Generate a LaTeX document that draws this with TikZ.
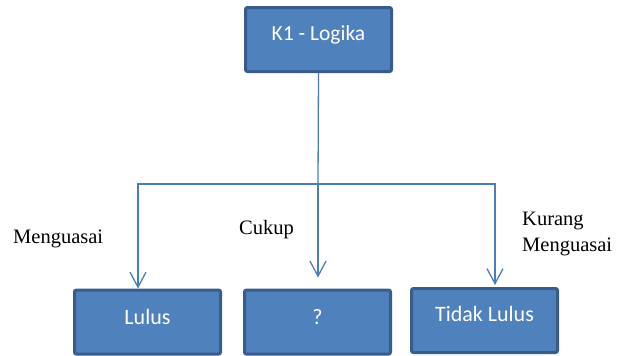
\documentclass[tikz,border=0pt]{standalone}
\usepackage{fontspec}
\setmainfont{Liberation Serif}
\newfontfamily\boxfont{Carlito}
\usetikzlibrary{arrows.meta}
\definecolor{boxfill}{RGB}{79,129,189}
\definecolor{boxedge}{RGB}{56,93,138}
\definecolor{linecol}{RGB}{74,126,187}
\tikzset{
  stepbox/.style={draw=boxedge, fill=boxfill, line width=3pt, rounded corners=2pt,
    minimum width=146pt, minimum height=64pt, inner sep=0pt, text=white,
    font=\boxfont\fontsize{22}{26}\selectfont},
  conn/.style={draw=linecol, line width=1.3pt},
  arr/.style={conn, -{Straight Barb[length=15pt,width=16pt,line width=1.3pt]}},
  lbl/.style={inner sep=0pt, font=\fontsize{20.5}{26}\selectfont, text=black}
}
\begin{document}
\begin{tikzpicture}[x=1pt,y=-1pt]
\useasboundingbox (0,0) rectangle (627,356);
\node[stepbox, font=\boxfont\fontsize{21.5}{26}\selectfont, text height=14pt, text depth=11.5pt] (top) at (318.5,39.5) {K1 - Logika};
\node[stepbox, text height=15pt, text depth=11pt] (lulus) at (147.5,322) {Lulus};
\node[stepbox, text height=15pt, text depth=11pt] (q) at (317.5,322) {?};
\node[stepbox, text height=14.5pt, text depth=13pt] (tl) at (484.5,320.5) {Tidak Lulus};
\coordinate (j) at (318,184);
\draw[conn] (top.south) -- (j);
\draw[arr] (j) -| ([xshift=-9.5pt]lulus.north);
\draw[arr] (j) -- ([yshift=11pt]j |- q.north);
\draw[arr] (j) -| ([xshift=10.5pt,yshift=2pt]tl.north);
\node[lbl, anchor=base west] (m1) at (13,243) {Menguasai};
\node[lbl, anchor=base west] (c1) at (239,234) {Cukup};
\node[lbl, anchor=north west, align=left] (k1) at (522,211.4) {Kurang\\Menguasai};
\end{tikzpicture}
\end{document}
